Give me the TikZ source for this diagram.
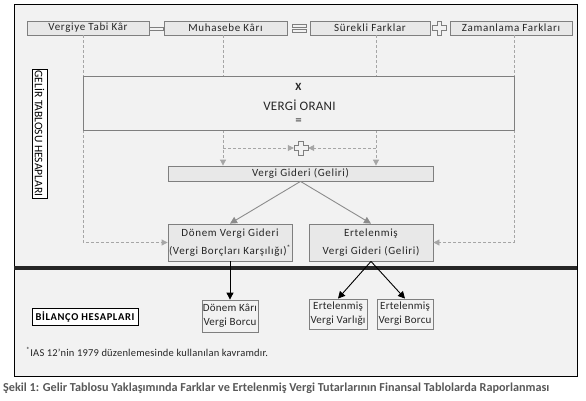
\documentclass[tikz,border=0pt]{standalone}
\usepackage{fontspec}
\setmainfont{Carlito}
\newfontfamily\genis[LetterSpace=6]{Carlito}
\newfontfamily\dar[LetterSpace=2]{Carlito}
\usetikzlibrary{positioning}
\usetikzlibrary{arrows.meta}
\usetikzlibrary{calc}

\definecolor{zemin}{HTML}{F2F2F2}
\definecolor{kutudolgu}{HTML}{E8E8E8}
\definecolor{kenar}{HTML}{7F7F7F}
\definecolor{kesik}{HTML}{A6A6A6}
\definecolor{yazi}{HTML}{262626}
\definecolor{baslik}{HTML}{595959}

\begin{document}
\begin{tikzpicture}[x=1pt,y=-1pt,
		kutu/.style={draw=kenar, line width=0.8pt, fill=kutudolgu, text=yazi, inner sep=0pt, align=center, font=\genis\fontsize{11}{18}\selectfont},
		kucukkutu/.style={kutu, fill=zemin, font=\dar\fontsize{11}{14}\selectfont},
		beyazkutu/.style={draw=black, line width=0.8pt, fill=white, inner sep=0pt},
		kesikok/.style={draw=kesik, line width=0.8pt, dash pattern=on 3pt off 2pt, -{Triangle[length=6pt,width=6pt]}},
		griok/.style={draw=kenar!90, line width=0.9pt, -{Triangle[length=7pt,width=7pt]}},
		siyahok/.style={draw=black, line width=0.9pt, -{Triangle[length=7pt,width=7pt]}},
		isaret/.style={draw=kenar, line width=0.8pt, fill=zemin}]
		\useasboundingbox (0,0) rectangle (586,401);
		% Frame and background
		\fill[white] (0,0) rectangle (586,401);
		\draw[fill=zemin, line width=1pt] (14,5) rectangle (577,376);
		
		% Define the columns of the dashed lines
		\coordinate (sutA) at (83,0);
		\coordinate (sutB) at (223,0);
		\coordinate (sutC) at (376,0);
		\coordinate (sutD) at (514,0);
		
		% Top boxes
		\node[kutu, minimum width=122pt, minimum height=14pt] (vtk) at (88,28) {Vergiye Tabi Kâr};
		\node[kutu, minimum width=123pt, minimum height=14pt] (mk) at (225.5,28) {Muhasebe Kârı};
		\node[kutu, minimum width=120pt, minimum height=14pt] (sf) at (370,28) {Sürekli Farklar};
		\node[kutu, minimum width=122pt, minimum height=14pt] (zf) at (511,28) {Zamanlama Farkları};
		
		% Middle boxes
		\node[kutu, minimum width=265pt, minimum height=15pt] (vg) at (300.5,173.5) {Vergi Gideri (Geliri)};
		\node[kutu, minimum width=124pt, minimum height=37pt] (dvg) at (230,242.5) {Dönem Vergi Gideri\\(Vergi Borçları Karşılığı)\textsuperscript{*}};
		\node[kutu, minimum width=124pt, minimum height=37pt] (evg) at (371,242.5) {Ertelenmiş\\Vergi Gideri (Geliri)};
		\node[minimum size=14pt, inner sep=0pt] (arti) at (301,148) {};
		
		% Draw the dashed lines
		\draw[kesikok] (vtk.south -| sutA) |- (dvg.west);
		\draw[kesikok] (mk.south -| sutB) -- (vg.north -| sutB);
		\draw[kesikok] (sf.south -| sutC) -- (vg.north -| sutC);
		\draw[kesikok] (zf.south -| sutD) |- (evg.east);
		\draw[kesikok] (arti -| sutB) -- (arti.west);
		\draw[kesikok] (arti -| sutC) -- (arti.east);
		
		% Big box
		\node[kutu, fill=zemin, minimum width=431pt, minimum height=54pt] (oran) at (298.5,103) {};
		\node[text=yazi, font=\fontsize{11}{11}\selectfont\bfseries] (carp) at (298.5,86.5) {X};
		\node[text=yazi, font=\dar\fontsize{13}{13}\selectfont] (vo) at (299.5,105) {VERGİ ORANI};
		\node[text=yazi, font=\fontsize{13}{13}\selectfont] (esit) at (298.5,122) {=};
		
		% Signs between the boxes
		\draw[isaret] (vtk.east |- 0,27.5) rectangle (mk.west |- 0,30);
		\draw[isaret] (292,24) rectangle (306,27);
		\draw[isaret] (292,29) rectangle (306,32);
		\foreach \yer in {arti, {439.5,28}}
		\draw[isaret, shift={(\yer)}] (-2.3,-7) -- (2.3,-7) -- (2.3,-2.3) -- (7,-2.3) -- (7,2.3) -- (2.3,2.3) -- (2.3,7) -- (-2.3,7) -- (-2.3,2.3) -- (-7,2.3) -- (-7,-2.3) -- (-2.3,-2.3) -- cycle;
		
		% Solid arrows
		\draw[griok] (vg.south) -- (dvg.north);
		\draw[griok] (vg.south) -- (evg.north);
		
		% Thick line between the accounts
		\draw[line width=3.5pt, draw=yazi] (14,268) -- (577,268);
		
		% Balance sheet boxes
		\node[kucukkutu, minimum width=56pt, minimum height=32pt] (dkvb) at (230,316) {Dönem Kârı\\Vergi Borcu};
		\node[kucukkutu, minimum width=58pt, minimum height=30pt] (evv) at (338,314) {Ertelenmiş\\Vergi Varlığı};
		\node[kucukkutu, minimum width=56pt, minimum height=30pt] (evb) at (405,314) {Ertelenmiş\\Vergi Borcu};
		
		\draw[siyahok] (dvg.south) -- (dkvb.north);
		\foreach \hedef in {evv, evb}
		\draw[siyahok] (evg.south) -- (\hedef.north);
		
		% Labels of the two parts
		\node[beyazkutu, rotate=-90, minimum width=129pt, minimum height=15pt, font=\fontsize{11.5}{10}\selectfont] (gelir) at (39.5,133.5) {GELİR TABLOSU HESAPLARI};
		\node[beyazkutu, minimum width=106pt, minimum height=17pt, font=\genis\fontsize{10.5}{11}\selectfont\bfseries] (bilanco) at (85,316.5) {BİLANÇO HESAPLARI};
		
		% Footnote and caption
		\node[anchor=west, text=yazi, inner sep=0pt, font=\dar\fontsize{10.5}{11}\selectfont] (dipnot) at (26,352) {\textsuperscript{*}IAS 12’nin 1979 düzenlemesinde kullanılan kavramdır.};
		\node[anchor=west, text=baslik, inner sep=0pt, font=\fontsize{12.2}{13}\selectfont\bfseries] (sekil) at (3,388) {Şekil 1: Gelir Tablosu Yaklaşımında Farklar ve Ertelenmiş Vergi Tutarlarının Finansal Tablolarda Raporlanması};
\end{tikzpicture}
\end{document}
